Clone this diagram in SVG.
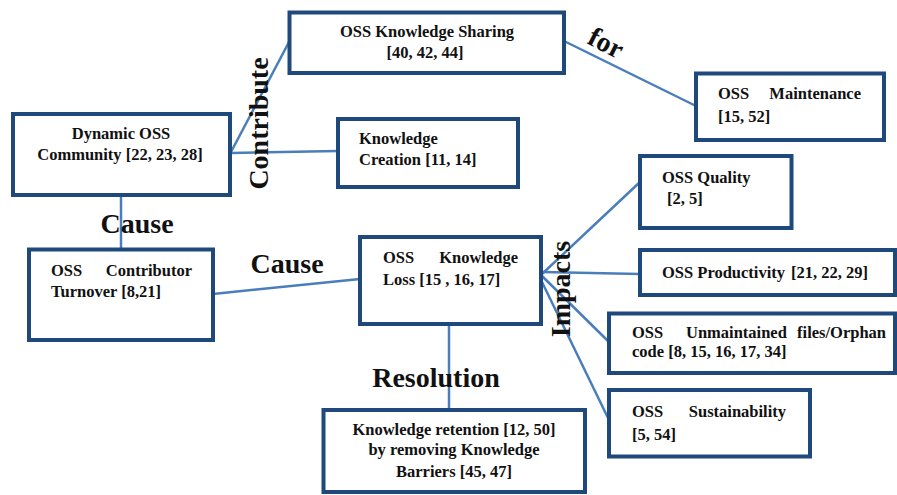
<svg xmlns="http://www.w3.org/2000/svg" width="897" height="495" viewBox="0 0 897 495">
<style>
.box{fill:#fff;stroke:#1F487C;stroke-width:4}
.t{font-family:"Liberation Serif","Times New Roman",serif;font-weight:bold;font-size:16.5px;fill:#111}
.m{text-anchor:middle}
.e{text-anchor:end}
.lbl{font-family:"Liberation Serif","Times New Roman",serif;font-weight:bold;font-size:28px;fill:#111}
.c{stroke:#4A7EBB;stroke-width:2.5;fill:none}
</style>
<rect width="897" height="495" fill="#fff"/>
<g id="connectors">
<line class="c" x1="231" y1="152" x2="289" y2="42"/>
<line class="c" x1="231" y1="153" x2="338" y2="151"/>
<line class="c" x1="564" y1="41" x2="696" y2="106"/>
<line class="c" x1="121" y1="196" x2="121" y2="249"/>
<line class="c" x1="213" y1="294" x2="360" y2="279"/>
<line class="c" x1="449" y1="324" x2="449" y2="410"/>
<line class="c" x1="542" y1="274" x2="640" y2="182"/>
<line class="c" x1="542" y1="272" x2="640" y2="274"/>
<line class="c" x1="542" y1="276" x2="609" y2="342"/>
<line class="c" x1="542" y1="282" x2="609" y2="420"/>
</g>
<g id="labels">
<text class="lbl m" transform="translate(268,123.5) rotate(-90)">Contribute</text>
<text class="lbl m" transform="translate(605,45) rotate(27)" y="7">for</text>
<text class="lbl m" x="137" y="233">Cause</text>
<text class="lbl m" x="287" y="273">Cause</text>
<text class="lbl m" x="436" y="387">Resolution</text>
<text class="lbl m" transform="translate(570,289) rotate(-90)">Impacts</text>
</g>
<g id="n-sharing">
<rect class="box" x="289.5" y="12.5" width="274.5" height="60.5"/>
<text class="t m" x="427" y="37">OSS Knowledge Sharing</text>
<text class="t m" x="425" y="58">[40, 42, 44]</text>
</g>
<g id="n-dynamic">
<rect class="box" x="13" y="114" width="217" height="81"/>
<text class="t m" x="121" y="139">Dynamic OSS</text>
<text class="t m" x="120" y="160">Community [22, 23, 28]</text>
</g>
<g id="n-creation">
<rect class="box" x="338" y="119" width="180" height="68"/>
<text class="t" x="359" y="144">Knowledge</text>
<text class="t" x="359" y="165">Creation [11, 14]</text>
</g>
<g id="n-maintenance">
<rect class="box" x="696" y="73.5" width="188" height="66.5"/>
<text class="t" x="718" y="99">OSS</text>
<text class="t e" x="861" y="99">Maintenance</text>
<text class="t" x="718" y="122">[15, 52]</text>
</g>
<g id="n-quality">
<rect class="box" x="640" y="156" width="151.5" height="72"/>
<text class="t" x="662" y="183">OSS Quality</text>
<text class="t" x="667" y="204">[2, 5]</text>
</g>
<g id="n-productivity">
<rect class="box" x="640" y="250" width="255" height="45"/>
<text class="t" x="662" y="278">OSS Productivity</text>
<text class="t e" x="868" y="278">[21, 22, 29]</text>
</g>
<g id="n-unmaintained">
<rect class="box" x="609" y="313.5" width="286" height="59.5"/>
<text class="t" x="632" y="338">OSS</text>
<text class="t" x="686" y="338">Unmaintained</text>
<text class="t e" x="886" y="338">files/Orphan</text>
<text class="t" x="632" y="357">code [8, 15, 16, 17, 34]</text>
</g>
<g id="n-sustainability">
<rect class="box" x="609" y="390" width="201" height="66.5"/>
<text class="t" x="632" y="417">OSS</text>
<text class="t e" x="786" y="417">Sustainability</text>
<text class="t" x="632" y="440">[5, 54]</text>
</g>
<g id="n-loss">
<rect class="box" x="360" y="237" width="181" height="87"/>
<text class="t" x="383" y="263">OSS</text>
<text class="t e" x="518" y="263">Knowledge</text>
<text class="t" x="383" y="285">Loss [15 , 16, 17]</text>
</g>
<g id="n-turnover">
<rect class="box" x="29" y="249.5" width="184" height="90.5"/>
<text class="t" x="51" y="276">OSS</text>
<text class="t e" x="192" y="276">Contributor</text>
<text class="t" x="51" y="297">Turnover [8,21]</text>
</g>
<g id="n-retention">
<rect class="box" x="323.5" y="410" width="261.5" height="82"/>
<text class="t m" x="454" y="435">Knowledge retention  [12, 50]</text>
<text class="t m" x="454" y="455">by removing Knowledge</text>
<text class="t m" x="454" y="477">Barriers [45, 47]</text>
</g>
</svg>
